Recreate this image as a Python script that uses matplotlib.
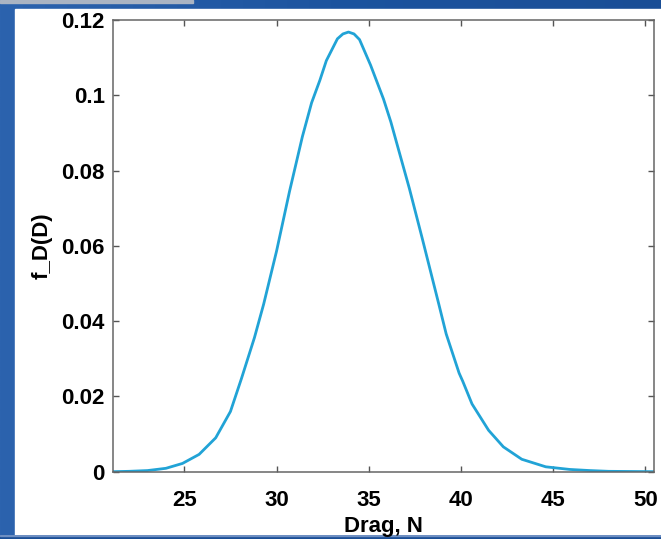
"""Drag probability density, slide-style figure"""
import numpy as np
import matplotlib
matplotlib.use("Agg")
import matplotlib.pyplot as plt
from matplotlib.patches import Rectangle
from matplotlib.colors import LinearSegmentedColormap

# values
drag = [21.1, 22.0, 23.0, 24.0, 24.9, 25.8, 26.7, 27.5, 28.1, 28.8, 29.3,
        30.0, 30.7, 31.4, 31.9, 32.35, 32.7, 33.3, 33.6, 33.9, 34.2, 34.5,
        35.1, 35.8, 36.2, 36.5, 37.2, 37.9, 38.8, 39.2, 39.9, 40.1, 40.6,
        41.5, 42.3, 43.3, 44.6, 45.9, 47.0, 48.0, 50.5]
pdf = [0.0000, 0.0001, 0.0003, 0.0009, 0.0022, 0.0046, 0.0090, 0.0160,
       0.0248, 0.0356, 0.0445, 0.0586, 0.0744, 0.0890, 0.0980, 0.1040,
       0.1092, 0.1150, 0.1163, 0.1168, 0.1163, 0.1148, 0.1080, 0.0990,
       0.0929, 0.0876, 0.0753, 0.0620, 0.0445, 0.0366, 0.0262, 0.0240,
       0.0180, 0.0110, 0.0066, 0.0033, 0.0013, 0.0006, 0.0003, 0.0001,
       0.0000]

x_ticks = [25, 30, 35, 40, 45, 50]
y_ticks = [0, 0.02, 0.04, 0.06, 0.08, 0.1, 0.12]
y_labels = ["0", "0.02", "0.04", "0.06", "0.08", "0.1", "0.12"]

W, H = 661, 539
fig = plt.figure(figsize=(W / 100, H / 100), dpi=100)
plt.rcParams['font.family'] = ['Liberation Sans', 'DejaVu Sans']

# blue slide background
bg = fig.add_axes([0, 0, 1, 1], zorder=-5)
cmap = LinearSegmentedColormap.from_list("slide", ["#2c63ae", "#1d549f", "#1a4e96"])
grad = np.linspace(0, 1, 256)[None, :] * np.ones((64, 1))
bg.imshow(grad, cmap=cmap, aspect='auto', extent=[0, W, 0, H])
bg.add_patch(Rectangle((15, H - 535), W - 15, 535 - 9, color='white'))
bg.add_patch(Rectangle((0, H - 3), 193, 3, color='#aab4c3'))
bg.set_xlim(0, W)
bg.set_ylim(0, H)
bg.axis('off')

ax = fig.add_axes([113 / W, 1 - 471.7 / H, (654 - 113) / W, (471.7 - 20) / H])
ax.plot(drag, pdf, color='#21a3d6', linewidth=2.0,
        solid_capstyle='round', solid_joinstyle='round')

ax.set_xlim(21.13, 50.47)
ax.set_ylim(0, 0.12)
ax.set_xticks(x_ticks)
ax.set_yticks(y_ticks)
ax.set_yticklabels(y_labels)
ax.tick_params(direction='in', length=4, width=1, color='#555555',
               top=True, right=True, labelsize=16)
ax.tick_params(axis='x', pad=13)
ax.tick_params(axis='y', pad=6)
for lbl in ax.get_xticklabels() + ax.get_yticklabels():
    lbl.set_fontweight('bold')
for sp in ax.spines.values():
    sp.set_color('#666666')
    sp.set_linewidth(1.1)

ax.set_xlabel('Drag, N', fontsize=16, fontweight='bold', labelpad=3.5)
ax.set_ylabel('f_D(D)', fontsize=16, fontweight='bold', labelpad=6)

# thin bottom border of the slide
cover = fig.add_axes([0, 0, 1, 4 / H], zorder=-4)
cover.add_patch(Rectangle((0, 0), 1, 1, color='#1a4e96'))
cover.add_patch(Rectangle((0, 0.75), 1, 0.25, color='#6e8fc2'))
cover.set_xlim(0, 1)
cover.set_ylim(0, 1)
cover.axis('off')

fig.savefig('out.png', dpi=100)
